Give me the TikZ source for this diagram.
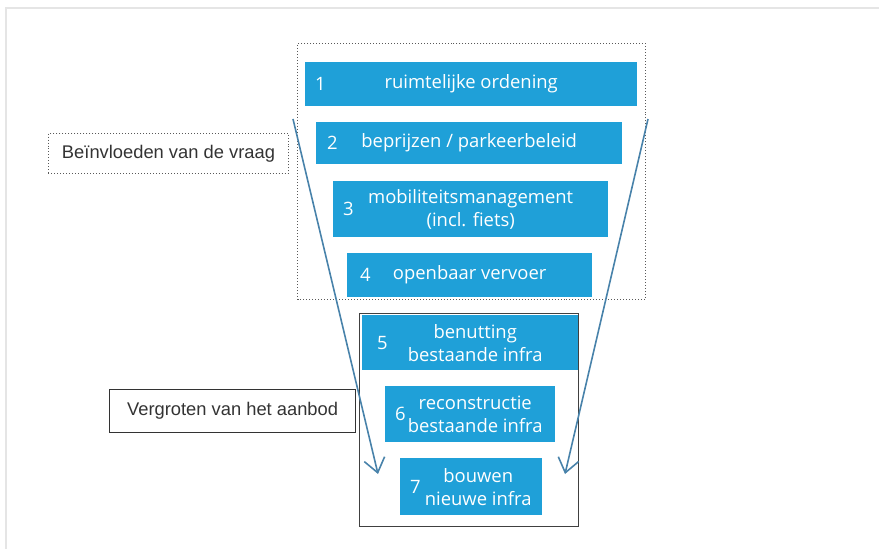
\documentclass[tikz,border=0pt]{standalone}
\usepackage{fontspec}
\setmainfont{Liberation Sans}
\newfontfamily\boxfont{Open Sans}
\usepackage{tikz}
\usetikzlibrary{arrows.meta,positioning}
\definecolor{stapblauw}{RGB}{31,160,216}
\definecolor{pijlblauw}{RGB}{72,130,170}
\tikzstyle{stap} = [rectangle, fill=stapblauw, text=white, align=center, anchor=north west,
                    inner sep=0pt, font={\boxfont\fontsize{18.5}{23}\selectfont}]
\tikzstyle{num} = [anchor=west, text=white, inner sep=0pt, font={\boxfont\fontsize{18.5}{23}\selectfont}]
\tikzstyle{kader} = [rectangle, anchor=north west, inner sep=0pt]
\tikzstyle{tekst} = [text=black!80, font={\fontsize{18.4}{21}\selectfont}]
\tikzstyle{pijl} = [draw=pijlblauw, line width=1.6pt, -{Straight Barb[length=14pt,width=21pt]}]

\begin{document}
\begin{tikzpicture}[x=1bp, y=-1bp]
      \useasboundingbox (0,0) rectangle (879,549);
      \draw [black!10, line width=1.2pt] (6,549) -- (6,8) -- (879,8);
      % kaders
      \node [kader, draw=black!65, dotted, line width=1pt, minimum width=348bp, minimum height=256bp]
        at (297,43) (vraag) {};
      \node [kader, draw=black!75, line width=1.2pt, minimum width=219bp, minimum height=213bp]
        at (359,313) (aanbod) {};
      % stappen
      \node [stap, minimum width=332bp, minimum height=44bp, label={[num, xshift=10bp]west:1}]
        at (305,62) (s1) {\raisebox{-2bp}{ruimtelijke ordening}};
      \node [stap, minimum width=306bp, minimum height=42bp, label={[num, xshift=11bp]west:2}]
        at (316,122) (s2) {\raisebox{-2bp}{beprijzen / parkeerbeleid}};
      \node [stap, minimum width=275bp, minimum height=56bp, label={[num, xshift=10bp]west:3}]
        at (333,181) (s3) {mobiliteitsmanagement\\(incl. fiets)};
      \node [stap, minimum width=245bp, minimum height=44bp, label={[num, xshift=13bp]west:4}]
        at (347,253) (s4) {\raisebox{-2bp}{openbaar vervoer}};
      \node [stap, minimum width=216bp, minimum height=55bp, label={[num, xshift=15bp]west:5}]
        at (362,315) (s5) {\hspace*{10bp}benutting\\\hspace*{10bp}bestaande infra};
      \node [stap, minimum width=170bp, minimum height=56bp, label={[num, xshift=10bp]west:6}]
        at (385,386) (s6) {\hspace*{10bp}reconstructie\\\hspace*{10bp}bestaande infra};
      \node [stap, minimum width=142bp, minimum height=57bp, label={[num, xshift=10bp]west:7}]
        at (400,458) (s7) {\hspace*{14bp}bouwen\\\hspace*{14bp}nieuwe infra};
      % labels
      \node [kader, draw=black!65, dotted, line width=1pt, minimum width=240bp, minimum height=40bp]
        at (48,133) (beinvloeden) {};
      \node [tekst] at (beinvloeden.center) {Beïnvloeden van de vraag};
      \node [kader, draw=black!80, line width=1.2pt, minimum width=246bp, minimum height=43bp]
        at (109,389) (vergroten) {};
      \node [tekst] at (vergroten.center) {Vergroten van het aanbod};
      % pijlen
      \coordinate (l0) at (293,119);
      \coordinate (l1) at (378,474);
      \coordinate (r0) at (648,119);
      \coordinate (r1) at (565,474);
      \path [pijl] (l0) -- (l1);
      \path [pijl] (r0) -- (r1);
    \end{tikzpicture}
\end{document}
